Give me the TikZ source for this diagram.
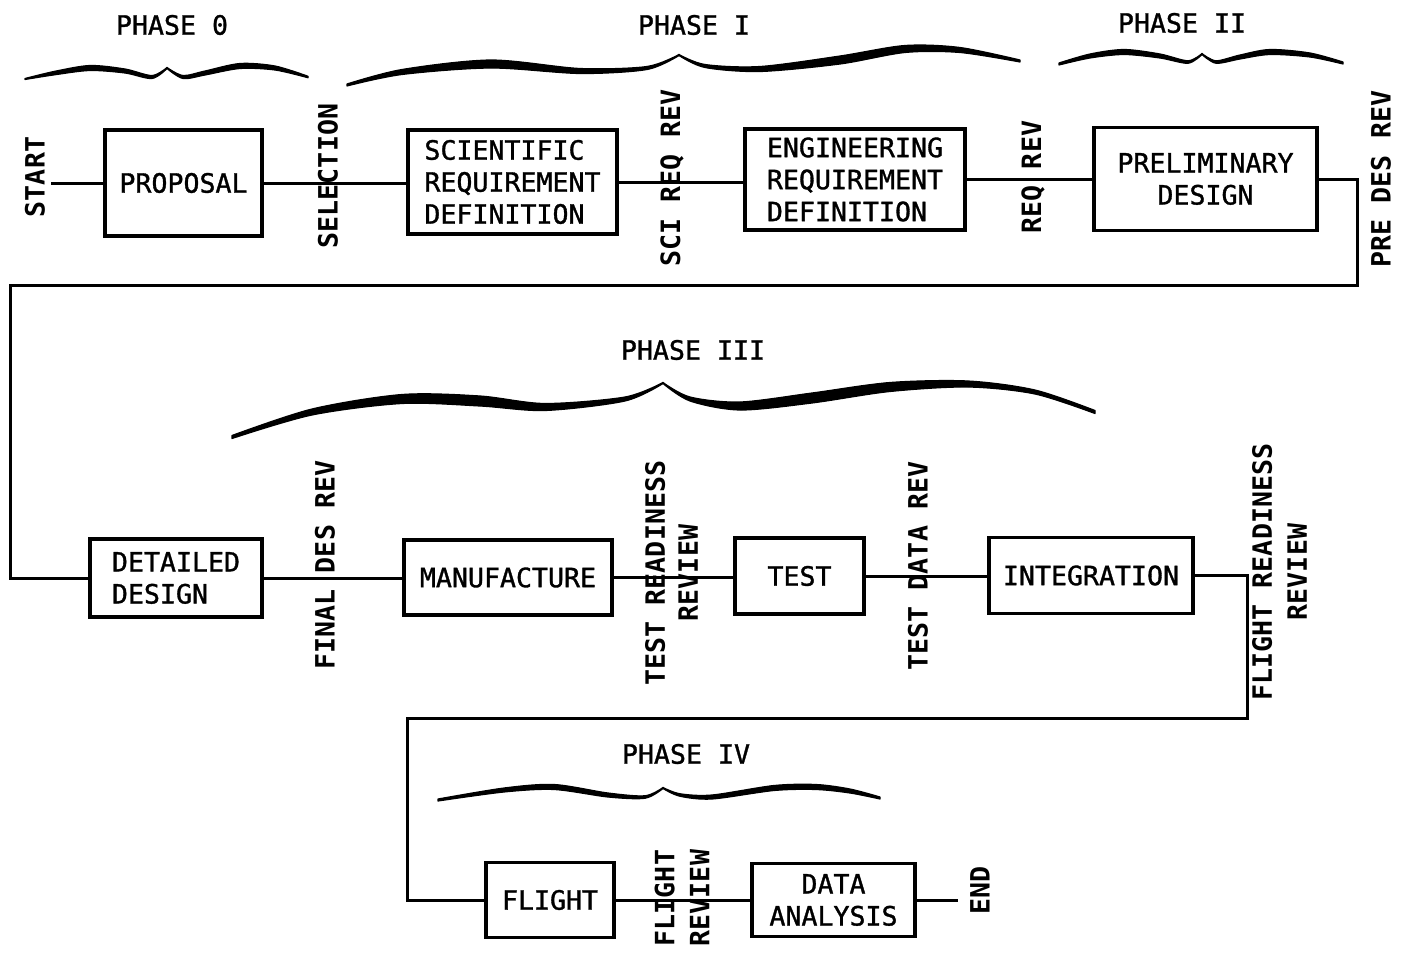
\documentclass[tikz,border=0pt]{standalone}
\usepackage{fontspec}
\newfontfamily\lett{DejaVu Sans Mono}[FakeBold=1.2]
\newfontfamily\lettb{DejaVu Sans Mono Bold}
\tikzset{
  box/.style={draw, line width=1.6pt, inner sep=0pt, font=\lett\fontsize{13.3}{16}\selectfont},
  vlab/.style={rotate=90, inner sep=0pt, align=center, font=\lettb\fontsize{13.3}{16}\selectfont},
  phase/.style={inner sep=0pt, font=\lett\fontsize{13.3}{16}\selectfont},
  conn/.style={line width=1.5pt},
  brc/.style={fill=black, draw=black, line width=0.6pt, line join=round}
}
\begin{document}
\begin{tikzpicture}[x=0.5pt,y=-0.5pt]
\useasboundingbox (0,0) rectangle (1404,953);

% ---------- phase labels ----------
\node[phase] (ph0) at (172,25) {PHASE 0};
\node[phase] (ph1) at (694,25) {PHASE I};
\node[phase] (ph2) at (1182,23) {PHASE II};
\node[phase] (ph3) at (693,350) {PHASE III};
\node[phase] (ph4) at (686,754) {PHASE IV};

% ---------- braces ----------
% phase 0
\path[brc] plot[smooth] coordinates {(25,78.5)(55,71.25)(90,65.5)(125,69)(152,75.5)(167,67.5)}
  -- plot[smooth] coordinates {(167,68.5)(152,78.5)(125,73)(90,70.5)(55,74.75)(25,79.5)} -- cycle;
\path[brc] plot[smooth] coordinates {(167,67.5)(183,75.5)(205,71)(240,63.5)(275,66)(308,76.25)}
  -- plot[smooth] coordinates {(308,77.75)(275,70)(240,68.5)(205,75)(183,78.5)(167,68.5)} -- cycle;
% phase I
\path[brc] plot[smooth] coordinates {(347,84)(402,69.5)(491,60)(580,68.5)(647,66.5)(679,54.5)}
  -- plot[smooth] coordinates {(679,55.5)(647,69.5)(580,73.5)(491,68)(402,74.5)(347,86)} -- cycle;
\path[brc] plot[smooth] coordinates {(679,54.5)(705,64.5)(760,66.5)(840,56)(905,45.5)(960,47.5)(1020,60)}
  -- plot[smooth] coordinates {(1020,62)(960,52.5)(905,52.5)(840,64)(760,71.5)(705,67.5)(679,55.5)} -- cycle;
% phase II
\path[brc] plot[smooth] coordinates {(1059,63)(1090,54)(1124,49.5)(1160,54)(1188,60.75)(1202,53.5)}
  -- plot[smooth] coordinates {(1202,54.5)(1188,63.25)(1160,58)(1124,54.5)(1090,58)(1059,65)} -- cycle;
\path[brc] plot[smooth] coordinates {(1202,53.5)(1216,60.75)(1240,55)(1270,49.5)(1310,53)(1343,62)}
  -- plot[smooth] coordinates {(1343,64)(1310,57)(1270,54.5)(1240,59)(1216,63.25)(1202,54.5)} -- cycle;
% phase III
\path[brc] plot[smooth] coordinates {(232,435.5)(312,409)(402,394.5)(480,396)(545,403.5)(625,397)(663,382.5)}
  -- plot[smooth] coordinates {(663,383.5)(625,401)(545,410.5)(480,406)(402,403.5)(312,415)(232,438.5)} -- cycle;
\path[brc] plot[smooth] coordinates {(663,382.5)(690,397)(740,402)(812,393)(890,382.5)(968,381)(1035,390)(1095,410.5)}
  -- plot[smooth] coordinates {(1095,413.5)(1035,394)(968,387)(890,391.5)(812,403)(740,410)(690,401)(663,383.5)} -- cycle;
% phase IV
\path[brc] plot[smooth] coordinates {(438,799)(504,788)(554,784.5)(608,793)(645,795.75)(663,787.5)}
  -- plot[smooth] coordinates {(663,788.5)(645,798.25)(608,797)(554,789.5)(504,792)(438,801)} -- cycle;
\path[brc] plot[smooth] coordinates {(663,787.5)(680,793.75)(712,795)(774,785.5)(816,784.5)(850,789)(880,797)}
  -- plot[smooth] coordinates {(880,799)(850,793)(816,789.5)(774,790.5)(712,799)(680,796.25)(663,788.5)} -- cycle;

% ---------- boxes ----------
\node[box, minimum width=78.5pt, minimum height=53pt] (prop) at (183.5,183) {PROPOSAL};
\node[box, minimum width=104.5pt, minimum height=52pt, align=left] (sci) at (512.5,182) {SCIENTIFIC\\REQUIREMENT\\DEFINITION};
\node[box, minimum width=110pt, minimum height=50.5pt, align=left] (eng) at (855,179.5) {ENGINEERING\\REQUIREMENT\\DEFINITION};
\node[box, minimum width=111.5pt, minimum height=51.5pt, align=center] (pre) at (1205.5,179) {PRELIMINARY\\DESIGN};
\node[box, minimum width=86pt, minimum height=39pt, align=left] (det) at (176,578) {DETAILED\\DESIGN};
\node[box, minimum width=104pt, minimum height=37.5pt] (man) at (508,577.5) {MANUFACTURE};
\node[box, minimum width=64.5pt, minimum height=38pt] (tst) at (799.5,576) {TEST};
\node[box, minimum width=102pt, minimum height=38pt] (int) at (1091,575.5) {INTEGRATION};
\node[box, minimum width=64pt, minimum height=37.5pt] (fl) at (550,900) {FLIGHT};
\node[box, minimum width=81.5pt, minimum height=36.5pt, align=center] (da) at (833.5,900) {DATA\\ANALYSIS};

% ---------- vertical labels ----------
\node[vlab] (lstart) at (35,177) {START};
\node[vlab] (lsel) at (328,176) {SELECTION};
\node[vlab] (lsci) at (672,178) {SCI REQ REV};
\node[vlab] (lreq) at (1033,177) {REQ REV};
\node[vlab] (lpre) at (1381,179) {PRE DES REV};
\node[vlab] (lfin) at (325,565) {FINAL DES REV};
\node[vlab, font=\lettb\fontsize{13.3}{16.5}\selectfont] (ltr) at (671.5,573) {TEST READINESS\\REVIEW};
\node[vlab] (ltd) at (918,566) {TEST DATA REV};
\node[vlab, font=\lettb\fontsize{13.3}{17.5}\selectfont] (lfr) at (1279.5,572) {FLIGHT READINESS\\REVIEW};
\node[vlab, font=\lettb\fontsize{13.3}{17.5}\selectfont] (lfl) at (682,898) {FLIGHT\\REVIEW};
\node[vlab] (lend) at (980,890) {END};

% ---------- connectors ----------
\coordinate (st) at (51,183);
\draw[conn] (st) -- (st -| prop.west);
\draw[conn] (prop.east) -- (prop.east -| sci.west);
\draw[conn] (sci.east) -- (sci.east -| eng.west);
\draw[conn] (eng.east) -- (eng.east -| pre.west);
\coordinate (ta) at (1357,285);
\coordinate (tb) at (10,285);
\draw[conn] (pre.east) -| (ta) -- (tb) |- (det.west);
\draw[conn] (det.east) -- (det.east -| man.west);
\draw[conn] (man.east) -- (man.east -| tst.west);
\draw[conn] (tst.east) -- (tst.east -| int.west);
\coordinate (ua) at (1247,718);
\coordinate (ub) at (407,718);
\draw[conn] (int.east) -| (ua) -- (ub) |- (fl.west);
\draw[conn] (fl.east) -- (fl.east -| da.west);
\coordinate (en) at (958,900);
\draw[conn] (da.east) -- (en);
\end{tikzpicture}
\end{document}
